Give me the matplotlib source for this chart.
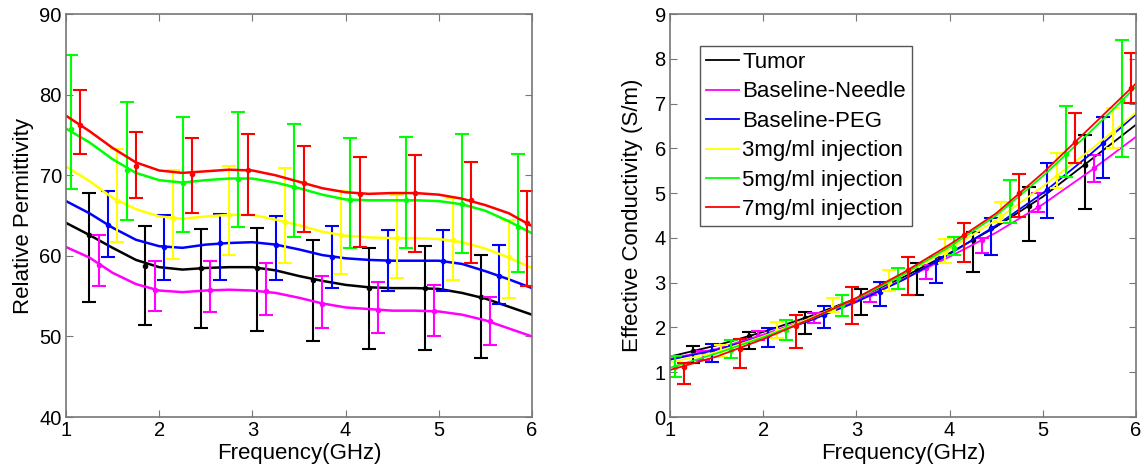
import matplotlib
matplotlib.use('Agg')
import matplotlib.pyplot as plt
import numpy as np

plt.rcParams['font.family'] = ['Liberation Sans', 'DejaVu Sans']

names = ['Tumor', 'Baseline-Needle', 'Baseline-PEG',
         '3mg/ml injection', '5mg/ml injection', '7mg/ml injection']
colors = ['#000000', '#ff00ff', '#0000ff', '#ffff00', '#00ff00', '#ff0000']

# positions of the error bars (GHz) for each series
bar_x = [
    [1.25, 1.85, 2.45, 3.05, 3.65, 4.25, 4.85, 5.45],
    [1.35, 1.95, 2.55, 3.15, 3.75, 4.35, 4.95, 5.55],
    [1.45, 2.05, 2.65, 3.25, 3.85, 4.45, 5.05, 5.65],
    [1.55, 2.15, 2.75, 3.35, 3.95, 4.55, 5.15, 5.75],
    [1.05, 1.65, 2.25, 2.85, 3.45, 4.05, 4.65, 5.25, 5.85],
    [1.15, 1.75, 2.35, 2.95, 3.55, 4.15, 4.75, 5.35, 5.95],
]

# ---- permittivity ----
perm_freq = np.arange(1.0, 6.01, 0.25)
perm_curves = [
    [64.1, 62.6, 61.0, 59.5, 58.6, 58.3, 58.5, 58.6, 58.6, 58.2, 57.5,
     56.9, 56.4, 56.1, 56.0, 56.0, 55.9, 55.4, 54.7, 53.7, 52.7],
    [61.1, 59.8, 57.9, 56.5, 55.7, 55.5, 55.7, 55.8, 55.7, 55.4, 54.8,
     54.1, 53.6, 53.4, 53.2, 53.2, 53.1, 52.7, 52.0, 51.0, 50.0],
    [66.8, 65.3, 63.5, 62.0, 61.2, 61.0, 61.4, 61.6, 61.7, 61.4, 60.8,
     60.1, 59.7, 59.5, 59.4, 59.4, 59.4, 59.0, 58.1, 57.1, 56.0],
    [71.1, 69.3, 67.2, 65.8, 64.9, 64.6, 64.9, 65.1, 65.1, 64.5, 63.8,
     63.0, 62.5, 62.3, 62.2, 62.2, 62.1, 61.7, 60.9, 59.8, 58.5],
    [75.8, 74.1, 72.0, 70.3, 69.4, 69.1, 69.4, 69.6, 69.6, 69.1, 68.4,
     67.6, 67.0, 66.9, 66.9, 66.9, 66.8, 66.4, 65.6, 64.3, 62.8],
    [77.4, 75.5, 73.4, 71.6, 70.6, 70.3, 70.5, 70.7, 70.6, 70.0, 69.2,
     68.4, 67.9, 67.7, 67.8, 67.8, 67.6, 67.1, 66.3, 65.3, 63.7],
]
perm_mark = [
    [62.6, 58.8, 58.5, 58.5, 57.0, 56.0, 56.0, 54.9],
    [58.9, 55.8, 55.8, 55.6, 54.0, 53.3, 53.2, 51.9],
    [63.8, 61.1, 61.6, 61.4, 59.9, 59.4, 59.4, 57.5],
    [66.8, 64.7, 65.1, 64.2, 62.6, 62.2, 62.0, 59.8],
    [75.7, 70.6, 69.1, 69.6, 68.5, 66.9, 66.9, 66.4, 63.6],
    [76.3, 71.2, 70.2, 70.6, 69.0, 67.7, 67.8, 66.9, 64.1],
]
perm_lo = [
    [54.3, 51.4, 51.0, 50.7, 49.4, 48.4, 48.3, 47.3],
    [56.2, 53.1, 53.0, 52.7, 51.1, 50.4, 50.1, 48.9],
    [59.8, 57.0, 57.0, 57.0, 56.0, 55.7, 55.6, 54.0],
    [61.7, 59.6, 60.1, 59.1, 57.7, 57.3, 57.0, 54.8],
    [68.3, 64.4, 63.0, 63.6, 62.3, 61.0, 61.0, 60.4, 58.0],
    [72.7, 67.2, 65.3, 65.1, 63.0, 61.1, 60.5, 59.1, 56.2],
]
perm_hi = [
    [67.8, 63.7, 63.3, 63.5, 62.0, 61.0, 61.2, 60.1],
    [62.6, 59.4, 59.4, 59.1, 57.5, 56.7, 56.4, 54.9],
    [68.1, 65.1, 65.2, 64.9, 63.7, 63.2, 63.2, 61.4],
    [73.3, 70.7, 71.1, 70.9, 68.0, 67.5, 67.2, 64.5],
    [84.9, 79.1, 77.3, 77.9, 76.4, 74.6, 74.8, 75.1, 72.7],
    [80.6, 75.4, 74.6, 75.1, 73.6, 72.3, 72.5, 71.7, 68.1],
]

# ---- conductivity ----
cond_freq = np.arange(1.0, 6.01, 0.5)
cond_curves = [
    [1.35, 1.60, 1.90, 2.25, 2.65, 3.12, 3.66, 4.25, 4.92, 5.72, 6.53],
    [1.30, 1.52, 1.84, 2.20, 2.60, 3.07, 3.58, 4.12, 4.75, 5.48, 6.26],
    [1.28, 1.50, 1.80, 2.15, 2.57, 3.06, 3.64, 4.28, 5.00, 5.85, 6.76],
    [1.22, 1.45, 1.80, 2.20, 2.65, 3.17, 3.75, 4.40, 5.15, 5.95, 6.80],
    [1.10, 1.42, 1.78, 2.18, 2.64, 3.18, 3.80, 4.50, 5.38, 6.35, 7.38],
    [1.05, 1.35, 1.74, 2.18, 2.66, 3.22, 3.85, 4.55, 5.45, 6.45, 7.45],
]
cond_mark = [
    [1.47, 1.80, 2.21, 2.70, 3.28, 3.95, 4.72, 5.64],
    [1.45, 1.81, 2.24, 2.74, 3.32, 3.95, 4.69, 5.56],
    [1.48, 1.83, 2.27, 2.80, 3.46, 4.22, 5.08, 6.12],
    [1.48, 1.92, 2.42, 3.01, 3.69, 4.47, 5.39, 6.37],
    [1.12, 1.50, 1.95, 2.50, 3.10, 3.78, 4.76, 5.87, 7.07],
    [1.12, 1.53, 2.04, 2.60, 3.29, 4.06, 5.00, 6.15, 7.35],
]
cond_lo = [
    [1.21, 1.52, 1.85, 2.28, 2.73, 3.25, 3.93, 4.65],
    [1.28, 1.72, 2.10, 2.57, 3.09, 3.67, 4.59, 5.26],
    [1.23, 1.57, 1.99, 2.48, 3.00, 3.62, 4.45, 5.34],
    [1.34, 1.77, 2.35, 2.82, 3.44, 4.36, 5.12, 6.01],
    [0.89, 1.32, 1.72, 2.25, 2.86, 3.62, 4.34, 5.37, 5.80],
    [0.74, 1.10, 1.55, 2.07, 2.73, 3.47, 4.47, 5.68, 7.02],
]
cond_hi = [
    [1.59, 1.89, 2.35, 2.86, 3.44, 4.14, 5.15, 6.29],
    [1.48, 1.92, 2.33, 2.73, 3.40, 4.00, 5.00, 5.86],
    [1.63, 1.99, 2.47, 3.02, 3.58, 4.45, 5.68, 6.71],
    [1.61, 2.13, 2.66, 3.29, 3.98, 4.81, 5.90, 6.90],
    [1.36, 1.72, 2.17, 2.72, 3.33, 4.03, 5.30, 6.94, 8.43],
    [1.21, 1.74, 2.28, 2.90, 3.58, 4.34, 5.44, 6.80, 8.14],
]

fig = plt.figure(figsize=(11.46, 4.75), dpi=100)
ax1 = fig.add_axes([0.0576, 0.1221, 0.4066, 0.848])
ax2 = fig.add_axes([0.5846, 0.1221, 0.4066, 0.848])


def draw(ax, freq, curves, marks, lo, hi, lw):
    for i in range(6):
        ax.plot(freq, curves[i], color=colors[i], lw=lw, label=names[i])
        bx = np.array(bar_x[i])
        l = np.array(lo[i])
        h = np.array(hi[i])
        ax.errorbar(bx, (l + h) / 2, yerr=(h - l) / 2, fmt='none',
                    ecolor=colors[i], elinewidth=1.5, capsize=5, capthick=1.5)
        ax.plot(bx, marks[i], '.', color=colors[i], ms=6)


draw(ax1, perm_freq, perm_curves, perm_mark, perm_lo, perm_hi, 1.8)
draw(ax2, cond_freq, cond_curves, cond_mark, cond_lo, cond_hi, 1.3)

ax1.set_xlim(1, 6)
ax1.set_ylim(40, 90)
ax1.set_yticks(range(40, 91, 10))
ax1.set_ylabel('Relative Permittivity', fontsize=16, labelpad=4)
ax1.set_xlabel('Frequency(GHz)', fontsize=16, labelpad=2)

ax2.set_xlim(1, 6)
ax2.set_ylim(0, 9)
ax2.set_yticks(range(0, 10))
ax2.set_ylabel('Effective Conductivity (S/m)', fontsize=16, labelpad=8)
ax2.set_xlabel('Frequency(GHz)', fontsize=16, labelpad=2)

for ax in (ax1, ax2):
    ax.set_xticks(range(1, 7))
    ax.tick_params(direction='in', top=True, right=True, length=5,
                   labelsize=14.5, color='#777777', pad=3)
    for s in ax.spines.values():
        s.set_color('#777777')
        s.set_linewidth(1.2)

leg = ax2.legend(loc='upper left', bbox_to_anchor=(0.065, 0.92), fontsize=16,
                 handlelength=1.5, handletextpad=0.15, labelspacing=0.38,
                 borderpad=0.25, borderaxespad=0, fancybox=False,
                 framealpha=1, edgecolor='#555555')
leg.get_frame().set_linewidth(1.0)
for ln in leg.get_lines():
    ln.set_linewidth(1.3)

plt.savefig('out.png', dpi=100)
